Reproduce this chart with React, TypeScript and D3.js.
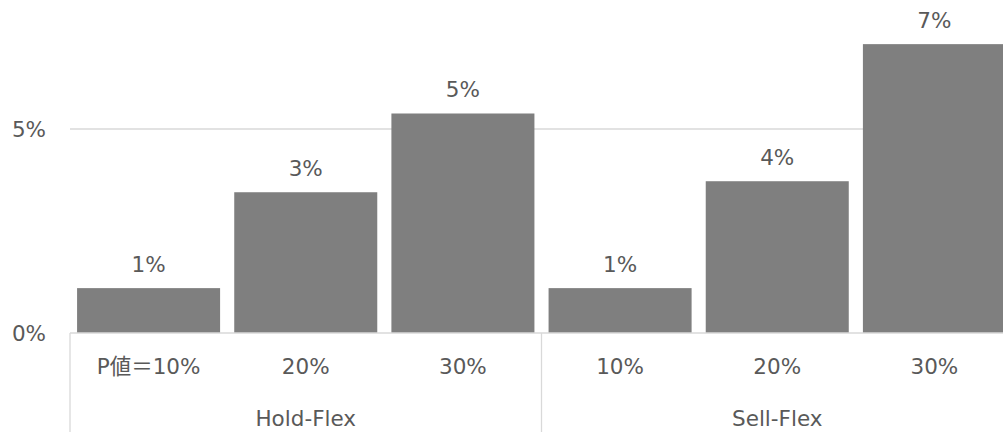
import React from "react";
import * as d3 from "d3";

const groups = ["Hold-Flex", "Sell-Flex"];
const categories = ["P値＝10%", "20%", "30%", "10%", "20%", "30%"];
const categoryGroup = [0, 0, 0, 1, 1, 1];
const values = [1.1, 3.45, 5.38, 1.1, 3.72, 7.08];
const valueLabels = ["1%", "3%", "5%", "1%", "4%", "7%"];
const yTicks = [0, 5];
const yTickLabels = ["0%", "5%"];

const W = 1003;
const H = 432;
const FONT = "'DejaVu Sans', 'Noto Sans CJK JP', Verdana, sans-serif";
const TXT = "#595959";
const FS = 21.5;

export default function App() {
  const keys = categories.map((_, i) => String(i));
  const x = d3.scaleBand<string>().domain(keys).range([70, 1013]).paddingInner(0.09).paddingOuter(0.045);
  const y = d3.scaleLinear().domain([0, 5]).range([333, 129]);
  const step = x.step();
  const x0 = 70;
  const sepXs = [0, 3, 6].map((k) => x0 + k * step);
  return (
    <svg width={W} height={H} style={{ position: "absolute", left: 0, top: 0, background: "#fff" }} fontFamily={FONT}>
      {yTicks.map((t, i) =>
        t !== 0 ? (
          <line key={"g" + i} x1={70} x2={W} y1={y(t)} y2={y(t)} stroke="#d9d9d9" strokeWidth={1.3} />
        ) : null
      )}
      {yTicks.map((t, i) => (
        <text key={"yl" + i} x={46} y={y(t)} textAnchor="end" dominantBaseline="central" fontSize={FS} fill={TXT}>
          {yTickLabels[i]}
        </text>
      ))}
      {values.map((v, i) => (
        <rect key={"b" + i} x={x(keys[i])} y={y(v)} width={x.bandwidth()} height={y(0) - y(v)} fill="#7f7f7f" />
      ))}
      {values.map((v, i) => (
        <text
          key={"vl" + i}
          x={(x(keys[i]) as number) + x.bandwidth() / 2}
          y={y(v) - 24}
          textAnchor="middle"
          dominantBaseline="central"
          fontSize={FS}
          fill={TXT}
        >
          {valueLabels[i]}
        </text>
      ))}
      <line x1={70} x2={W} y1={y(0)} y2={y(0)} stroke="#d9d9d9" strokeWidth={1.3} />
      {sepXs.map((sx, i) => (
        <line key={"s" + i} x1={sx} x2={sx} y1={y(0)} y2={H} stroke="#d9d9d9" strokeWidth={1.3} />
      ))}
      {categories.map((c, i) => (
        <text
          key={"c" + i}
          x={(x(keys[i]) as number) + x.bandwidth() / 2}
          y={366}
          textAnchor="middle"
          dominantBaseline="central"
          fontSize={FS}
          fill={TXT}
        >
          {c}
        </text>
      ))}
      {groups.map((g, gi) => {
        const idx = categoryGroup.map((gg, i) => (gg === gi ? i : -1)).filter((i) => i >= 0);
        const cx = x0 + (idx[0] + idx.length / 2) * step;
        return (
          <text key={"gr" + gi} x={cx} y={418} textAnchor="middle" dominantBaseline="central" fontSize={FS} fill={TXT}>
            {g}
          </text>
        );
      })}
    </svg>
  );
}
